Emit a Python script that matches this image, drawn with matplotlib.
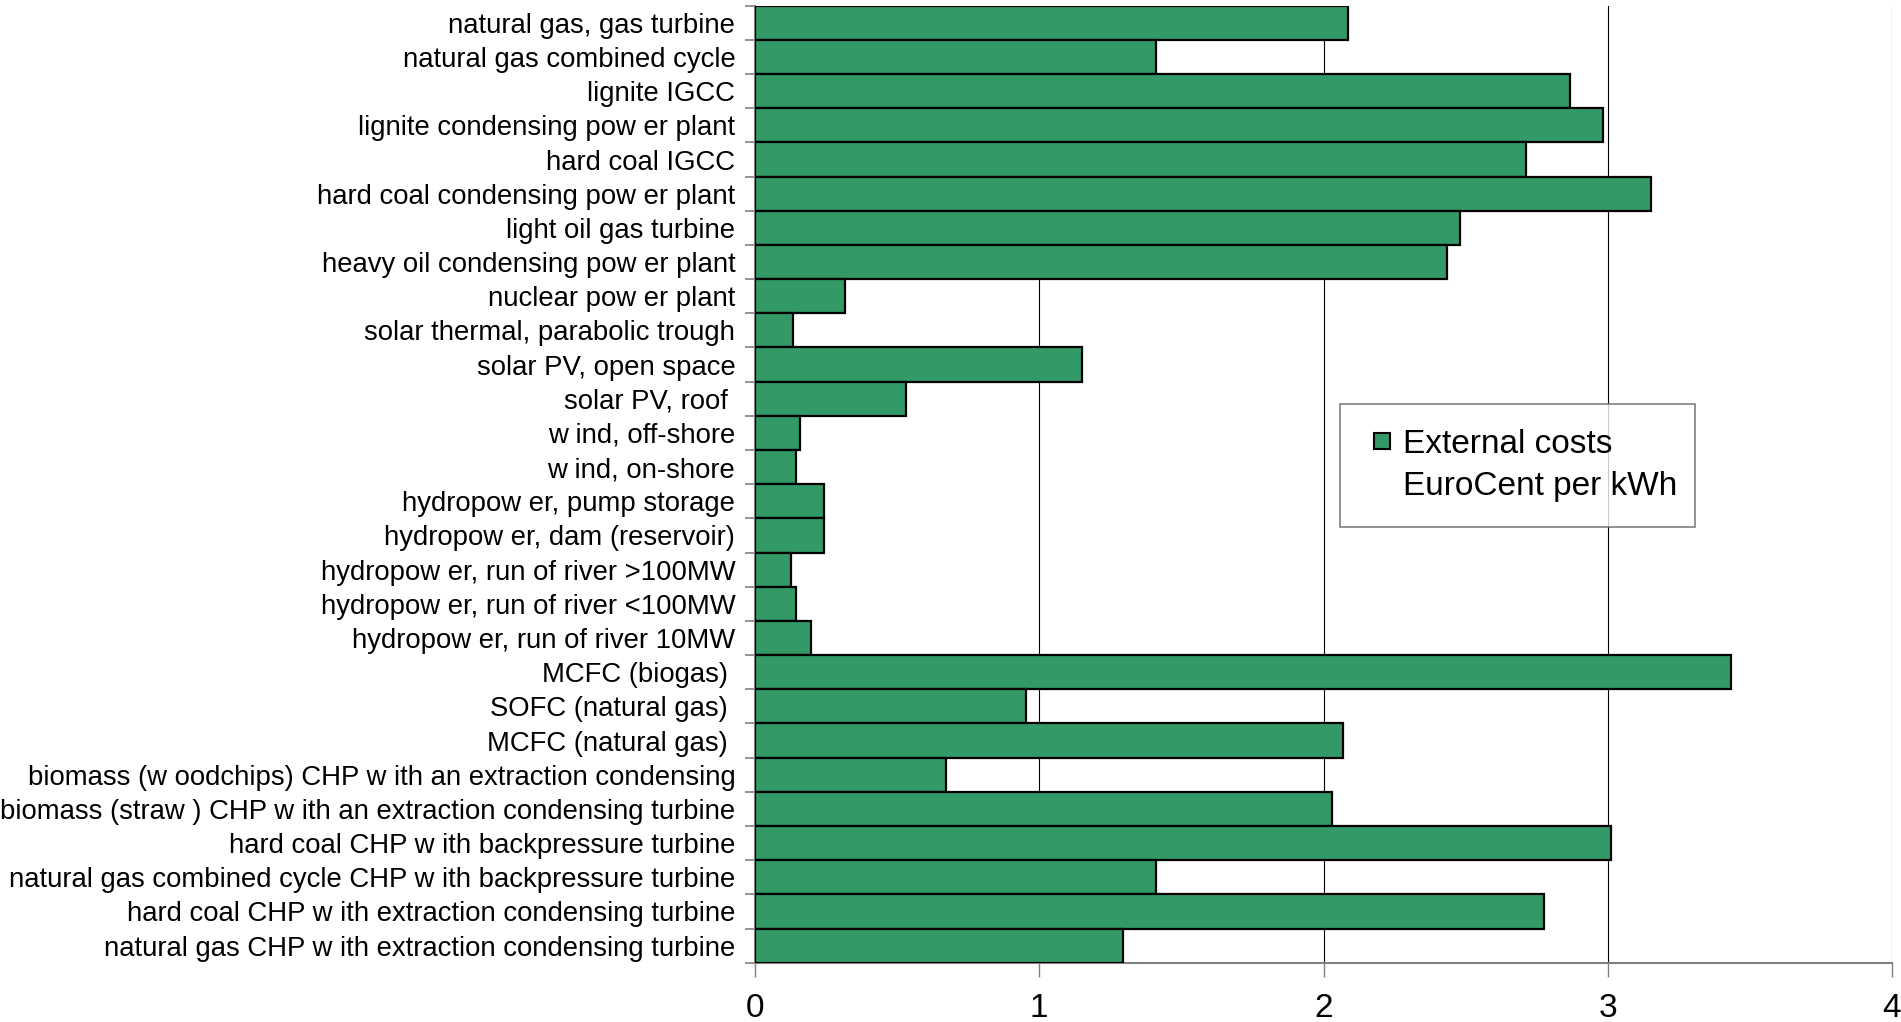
import matplotlib
matplotlib.use("Agg")
import matplotlib.pyplot as plt
from matplotlib.lines import Line2D
import numpy as np

plt.rcParams['font.family'] = ['Liberation Sans', 'DejaVu Sans']

categories = [
    "natural gas, gas turbine",
    "natural gas combined cycle",
    "lignite IGCC",
    "lignite condensing pow er plant",
    "hard coal IGCC",
    "hard coal condensing pow er plant",
    "light oil gas turbine",
    "heavy oil condensing pow er plant",
    "nuclear pow er plant",
    "solar thermal, parabolic trough",
    "solar PV, open space",
    "solar PV, roof ",
    "w ind, off-shore",
    "w ind, on-shore",
    "hydropow er, pump storage",
    "hydropow er, dam (reservoir)",
    "hydropow er, run of river >100MW",
    "hydropow er, run of river <100MW",
    "hydropow er, run of river 10MW",
    "MCFC (biogas) ",
    "SOFC (natural gas) ",
    "MCFC (natural gas) ",
    "biomass (w oodchips) CHP w ith an extraction condensing",
    "biomass (straw ) CHP w ith an extraction condensing turbine",
    "hard coal CHP w ith backpressure turbine",
    "natural gas combined cycle CHP w ith backpressure turbine",
    "hard coal CHP w ith extraction condensing turbine",
    "natural gas CHP w ith extraction condensing turbine",
]

external_costs = [
    2.085, 1.41, 2.866, 2.983, 2.713, 3.152, 2.48, 2.435, 0.315, 0.135,
    1.15, 0.531, 0.16, 0.143, 0.243, 0.243, 0.127, 0.143, 0.198, 3.432,
    0.953, 2.067, 0.673, 2.03, 3.01, 1.41, 2.776, 1.295,
]

xticks = [0, 1, 2, 3, 4]
legend_labels = ["External costs", "EuroCent per kWh"]

W, H = 1901, 1022
ax_l, ax_r, ax_t, ax_b = 755, 1892, 5.7, 962.7

fig = plt.figure(figsize=(W / 100, H / 100), dpi=100)
ax = fig.add_axes([ax_l / W, 1 - ax_b / H, (ax_r - ax_l) / W, (ax_b - ax_t) / H])

y = np.arange(len(categories))
ax.barh(y, external_costs, height=1.0, color="#339966", edgecolor="black",
        linewidth=1.6, zorder=3, label=legend_labels[0])

ax.set_xlim(0, 4)
ax.set_ylim(len(categories) - 0.5, -0.5)

ax.set_xticks(xticks)
ax.set_xticklabels([str(t) for t in xticks], fontsize=24)
ax.tick_params(axis='x', direction='out', length=10, width=1, color="#808080", pad=12)

ax.set_yticks(y)
ax.set_yticklabels(categories, fontsize=19.8)
ax.tick_params(axis='y', which='major', length=0, pad=14.2)
ax.set_yticks(np.arange(-0.5, len(categories), 1.0), minor=True)
ax.tick_params(axis='y', which='minor', direction='out', length=7, width=1.2, color="#808080")

ax.grid(axis='x', color="black", linewidth=0.8, zorder=0)
for side in ['top', 'right']:
    ax.spines[side].set_visible(False)
ax.spines['bottom'].set_color("#808080")
ax.spines['bottom'].set_linewidth(1.5)
ax.spines['left'].set_color("#808080")
ax.spines['left'].set_linewidth(1.5)

# legend box in reference pixels: x 1340-1695, y 404-529
lx0, lx1, ly0, ly1 = 1340, 1695, 404, 529
aw, ah = ax_r - ax_l, ax_b - ax_t
handles = [Line2D([], [], linestyle='none', marker='s', markersize=11,
                  markerfacecolor="#339966", markeredgecolor="black", markeredgewidth=1.5),
           Line2D([], [], linestyle='none', marker=None)]
leg = ax.legend(handles, legend_labels, loc='upper left', mode='expand',
                bbox_to_anchor=((lx0 - ax_l) / aw, (ax_b - ly1) / ah,
                                (lx1 - lx0) / aw, (ly1 - ly0) / ah),
                borderaxespad=0, fontsize=24, frameon=True, fancybox=False,
                handlelength=1.0, handletextpad=0.15,
                borderpad=0.75, labelspacing=0.33)
leg.get_frame().set_edgecolor("#606060")
leg.get_frame().set_linewidth(1.2)
leg.set_zorder(5)

fig.savefig("out.png", dpi=100, facecolor="white")
